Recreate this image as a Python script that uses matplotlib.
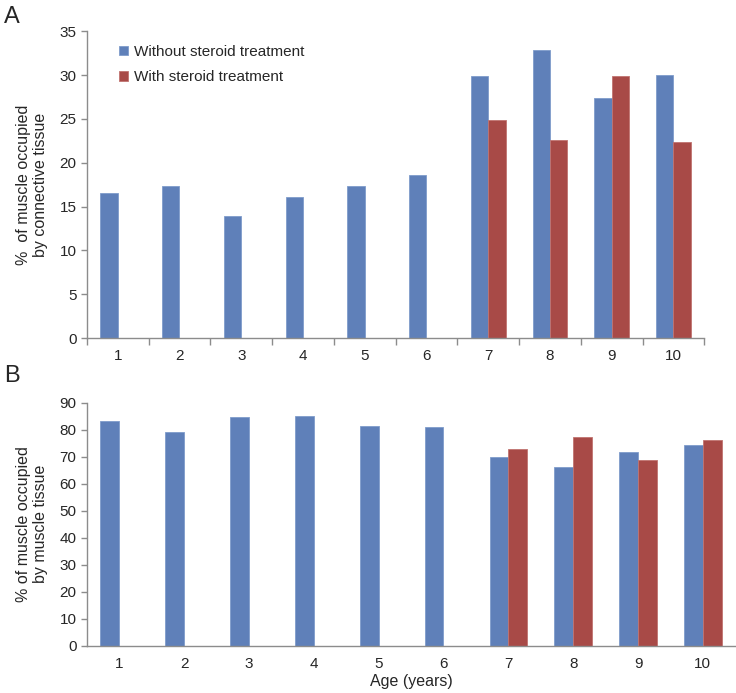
import numpy as np
import matplotlib
matplotlib.use("Agg")
import matplotlib.pyplot as plt

plt.rcParams["font.family"] = ["Liberation Sans", "DejaVu Sans"]

ages = [1, 2, 3, 4, 5, 6, 7, 8, 9, 10]
labels = ["Without steroid treatment", "With steroid treatment"]

# panel A: connective tissue
conn_without = [16.5, 17.4, 13.9, 16.1, 17.4, 18.6, 29.9, 32.8, 27.4, 30.0]
conn_with = [0, 0, 0, 0, 0, 0, 24.9, 22.6, 29.9, 22.4]

# panel B: muscle tissue
musc_without = [83.1, 79.2, 84.6, 85.1, 81.4, 80.9, 69.9, 66.1, 71.8, 74.5]
musc_with = [0, 0, 0, 0, 0, 0, 72.9, 77.2, 68.6, 76.2]

BLUE = "#5F80B9"
RED = "#A84A47"
AXC = "#8C8C8C"
TXT = "#262626"


def style_axes(ax, ymax, ystep):
    for s in ["top", "right"]:
        ax.spines[s].set_visible(False)
    for s in ["left", "bottom"]:
        ax.spines[s].set_color(AXC)
        ax.spines[s].set_linewidth(1.0)
    ax.set_ylim(0, ymax)
    ax.set_yticks(np.arange(0, ymax + 1, ystep))
    ax.set_xlim(0.5, 10.5)
    ax.set_xticks(ages)
    ax.set_xticklabels([str(a) for a in ages])
    ax.tick_params(axis="y", colors=AXC, labelcolor=TXT, labelsize=11, length=4, width=1)
    ax.tick_params(axis="x", length=0, labelcolor=TXT, labelsize=11, pad=8)


fig = plt.figure(figsize=(7.36, 6.93), dpi=100)
x = np.array(ages)
w = 0.28

axA = fig.add_axes([0.118, 0.512, 0.839, 0.443])
axA.bar(x - w / 2, conn_without, w, color=BLUE, edgecolor="#7F9CCB", linewidth=0.6, label=labels[0])
axA.bar(x + w / 2, conn_with, w, color=RED, edgecolor="#C07370", linewidth=0.6, label=labels[1])
style_axes(axA, 35, 5)
# category boundary ticks
axA.set_xticks(np.arange(0.5, 11, 1), minor=True)
axA.tick_params(axis="x", which="minor", length=5, color=AXC, width=1)
axA.set_ylabel("%  of muscle occupied\nby connective tissue", fontsize=11.5, color=TXT, labelpad=8)
leg = axA.legend(loc="upper left", bbox_to_anchor=(0.03, 1.0), frameon=False, fontsize=11,
                 handlelength=0.55, handleheight=0.55, handletextpad=0.4, labelspacing=0.75)
for t in leg.get_texts():
    t.set_color(TXT)

axB = fig.add_axes([0.118, 0.068, 0.881, 0.351])
wb = 0.29
axB.bar(x - wb / 2, musc_without, wb, color=BLUE, edgecolor="#7F9CCB", linewidth=0.6)
axB.bar(x + wb / 2, musc_with, wb, color=RED, edgecolor="#C07370", linewidth=0.6)
style_axes(axB, 90, 10)
axB.set_ylabel("% of muscle occupied\nby muscle tissue", fontsize=11.5, color=TXT, labelpad=8)
axB.set_xlabel("Age (years)", fontsize=11.5, color=TXT, labelpad=2)

fig.text(0.005, 0.975, "A", fontsize=17, color=TXT, va="center")
fig.text(0.005, 0.458, "B", fontsize=17, color=TXT, va="center")

fig.savefig("out.png", dpi=100)
